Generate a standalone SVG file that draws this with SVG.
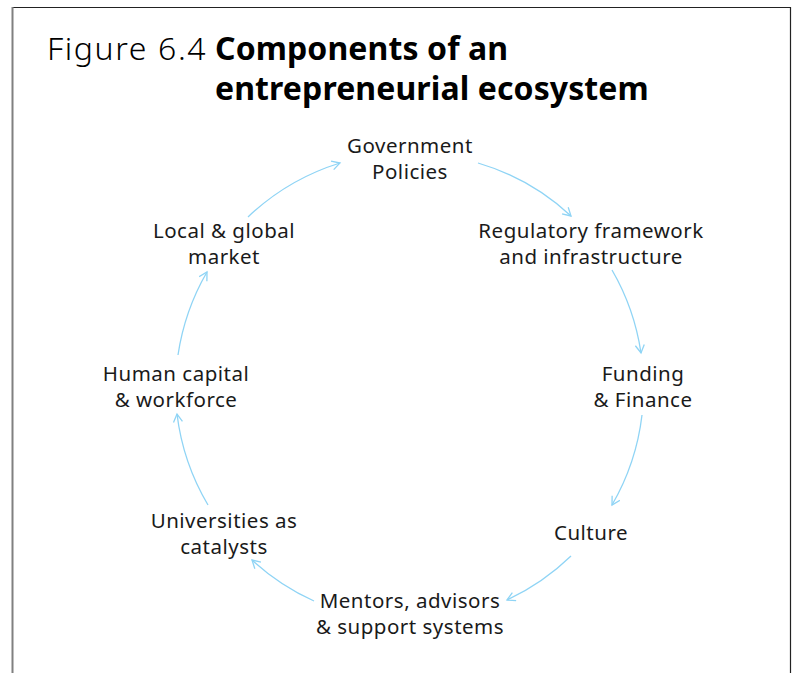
<svg xmlns="http://www.w3.org/2000/svg" width="798" height="673" viewBox="0 0 798 673">
<style>
.t{font-family:"Noto Sans","Liberation Sans",sans-serif;font-size:20.5px;letter-spacing:0.5px;fill:#1a1a1a;text-anchor:middle}
.title{font-family:"Noto Sans","Liberation Sans",sans-serif;font-size:32px;fill:#000}
.c{fill:none;stroke:#8fd4f5;stroke-width:1.3}
</style>
<defs>
<marker id="ah" markerWidth="12" markerHeight="12" refX="9" refY="5" orient="auto" markerUnits="userSpaceOnUse">
<path d="M1,0.5 L9,5 L1,9.5" fill="none" stroke="#8fd4f5" stroke-width="1.3"/>
</marker>
</defs>
<rect width="798" height="673" fill="#fff"/>
<path d="M12.5,7.5 H790.5 V673" fill="none" stroke="#222" stroke-width="1.2"/>
<path d="M12.5,673 V7" fill="none" stroke="#808080" stroke-width="2"/>
<g id="title">
<text class="title" x="47" y="60" font-weight="300" letter-spacing="1.6">Figure 6.4</text>
<text class="title" x="215" y="60" font-weight="bold" letter-spacing="0.1">Components of an</text>
<text class="title" x="215" y="100" font-weight="bold" letter-spacing="0.1">entrepreneurial ecosystem</text>
</g>
<g id="connectors">
<path class="c" marker-end="url(#ah)" d="M478,163 A234,234 0 0 1 571,216"/>
<path class="c" marker-end="url(#ah)" d="M612,270 A234,234 0 0 1 641,353"/>
<path class="c" marker-end="url(#ah)" d="M642,415 A234,234 0 0 1 612,505"/>
<path class="c" marker-end="url(#ah)" d="M571,556 A234,234 0 0 1 507,600"/>
<path class="c" marker-end="url(#ah)" d="M314,601 A234,234 0 0 1 252,560"/>
<path class="c" marker-end="url(#ah)" d="M208,505 A234,234 0 0 1 177,414"/>
<path class="c" marker-end="url(#ah)" d="M178,355 A234,234 0 0 1 207,272"/>
<path class="c" marker-end="url(#ah)" d="M248,217 A234,234 0 0 1 340,163"/>
</g>
<g id="n-gov"><text class="t" x="410" y="153">Government</text><text class="t" x="410" y="179">Policies</text></g>
<g id="n-reg"><text class="t" x="591" y="238">Regulatory framework</text><text class="t" x="591" y="264">and infrastructure</text></g>
<g id="n-fund"><text class="t" x="643" y="381">Funding</text><text class="t" x="643" y="407">&amp; Finance</text></g>
<g id="n-cult"><text class="t" x="591" y="540">Culture</text></g>
<g id="n-ment"><text class="t" x="410" y="608">Mentors, advisors</text><text class="t" x="410" y="634">&amp; support systems</text></g>
<g id="n-univ"><text class="t" x="224" y="528">Universities as</text><text class="t" x="224" y="554">catalysts</text></g>
<g id="n-hum"><text class="t" x="176" y="381">Human capital</text><text class="t" x="176" y="407">&amp; workforce</text></g>
<g id="n-loc"><text class="t" x="224" y="238">Local &amp; global</text><text class="t" x="224" y="264">market</text></g>
</svg>
